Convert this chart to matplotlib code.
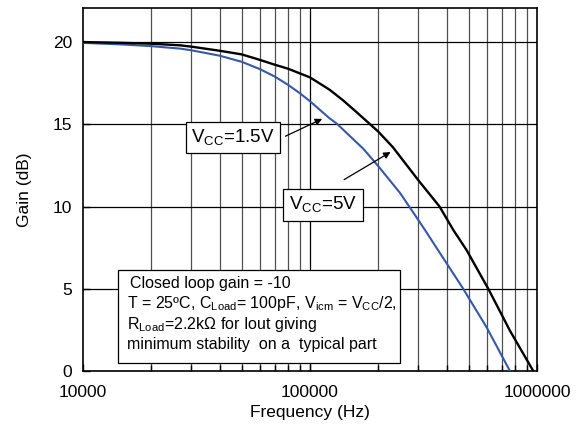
import numpy as np
import matplotlib
matplotlib.use("Agg")
import matplotlib.pyplot as plt
from matplotlib.patches import Rectangle

plt.rcParams['font.family'] = ['Liberation Sans', 'DejaVu Sans']
plt.rcParams['mathtext.fontset'] = 'custom'
plt.rcParams['mathtext.rm'] = 'Liberation Sans'

# black curve, Vcc = 5V
freq_5v = [10000, 15000, 20000, 26800, 30000, 40000, 50000, 60000, 70000, 80000,
           100000, 122000, 140000, 160000, 184000, 200000, 232000, 300000,
           372000, 428000, 489000, 610000, 760000, 963000]
gain_5v = [20.0, 19.95, 19.9, 19.8, 19.72, 19.47, 19.25, 18.92, 18.62, 18.38,
           17.85, 17.1, 16.45, 15.75, 15.0, 14.55, 13.6, 11.6,
           10.0, 8.57, 7.36, 5.0, 2.45, 0.0]

# blue curve, Vcc = 1.5V
freq_15v = [10000, 15000, 20000, 26800, 30000, 40000, 50000, 60000, 70000, 80000,
            90000, 100000, 122000, 131000, 172000, 200000, 250000, 300000,
            321000, 366000, 473000, 600000, 760000]
gain_15v = [19.95, 19.85, 19.75, 19.6, 19.5, 19.17, 18.8, 18.36, 17.9, 17.4,
            16.9, 16.4, 15.36, 15.05, 13.5, 12.45, 10.8, 9.18,
            8.57, 7.36, 5.0, 2.65, 0.0]

xticks = [10000, 100000, 1000000]
yticks = [0, 5, 10, 15, 20]

fig = plt.figure(figsize=(5.82, 4.32), dpi=100)
ax = fig.add_axes([0.1426, 0.1412, 0.7801, 0.8403])

ax.set_xscale('log')
ax.set_xlim(10000, 1000000)
ax.set_ylim(0, 22.07)

# grid
minor = [m * 10 ** e for e in (4, 5) for m in range(2, 10)]
for f in minor:
    ax.axvline(f, color='#505050', lw=0.9, zorder=1)
ax.axvline(100000, color='black', lw=0.9, zorder=1)
for g in yticks[1:]:
    ax.axhline(g, color='black', lw=0.9, zorder=1)

ax.plot(freq_15v, gain_15v, color='#3558a8', lw=1.5, zorder=3)
ax.plot(freq_5v, gain_5v, color='black', lw=1.7, zorder=3)

ax.set_xticks(xticks)
ax.set_xticklabels(['10000', '100000', '1000000'])
ax.set_xticks(minor, minor=True)
ax.set_xticklabels([], minor=True)
ax.set_yticks(yticks)
ax.tick_params(which='both', direction='in', labelsize=12.5, length=5, width=1)
ax.tick_params(which='minor', length=4)
ax.tick_params(axis='x', pad=10)
ax.tick_params(axis='y', pad=8)
for s in ax.spines.values():
    s.set_linewidth(1.2)

ax.set_xlabel('Frequency (Hz)', fontsize=12.5, labelpad=4)
ax.set_ylabel('Gain (dB)', fontsize=12.5, labelpad=15)

# annotations
ax.annotate('', xy=(116000, 15.4), xytext=(76000, 14.2),
            arrowprops=dict(arrowstyle='-|>', color='black', lw=0.9,
                            mutation_scale=10), zorder=4)
ax.text(45800, 14.2, r'V$_{\mathregular{CC}}$=1.5V', fontsize=13.5,
        ha='center', va='center', zorder=5,
        bbox=dict(boxstyle='square,pad=0.3', fc='white', ec='black', lw=0.9))

ax.annotate('', xy=(232000, 13.4), xytext=(138000, 11.55),
            arrowprops=dict(arrowstyle='-|>', color='black', lw=0.9,
                            mutation_scale=10), zorder=4)
ax.text(114000, 10.1, r'V$_{\mathregular{CC}}$=5V', fontsize=13.5,
        ha='center', va='center', zorder=5,
        bbox=dict(boxstyle='square,pad=0.3', fc='white', ec='black', lw=0.9))

ax.add_patch(Rectangle((0.077, 0.022), 0.621, 0.256, transform=ax.transAxes,
                       fc='white', ec='black', lw=0.9, zorder=5))
lines = [
    'Closed loop gain = -10',
    r'T = 25ºC, C$_{\mathregular{Load}}$= 100pF, V$_{\mathregular{icm}}$ = V$_{\mathregular{CC}}$/2,',
    r'R$_{\mathregular{Load}}$=2.2kΩ for Iout giving',
    'minimum stability  on a  typical part',
]
ys = [0.242, 0.187, 0.127, 0.072]
for t, y in zip(lines, ys):
    ax.text(0.104 if t.startswith('Closed') else 0.097, y, t, transform=ax.transAxes,
            fontsize=11.5, ha='left', va='center', zorder=6)

fig.savefig('out.png', dpi=100)
